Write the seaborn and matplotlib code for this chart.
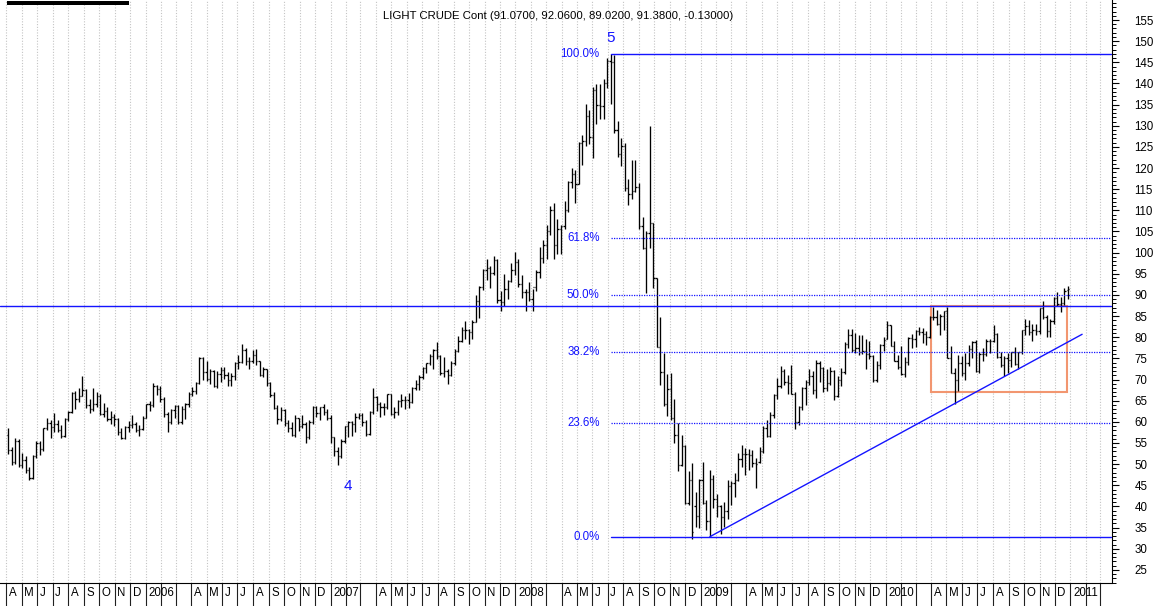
import numpy as np
import pandas as pd
import matplotlib
matplotlib.use("Agg")
import matplotlib.pyplot as plt
import seaborn as sns
from matplotlib.patches import Rectangle
from matplotlib.ticker import MultipleLocator, FixedLocator
import matplotlib.transforms as mtransforms

TITLE = "LIGHT CRUDE Cont (91.0700, 92.0600, 89.0200, 91.3800, -0.13000)"
FIRST_WEEK = "2005-04-04"

# ---- weekly OHLC ----
opens_2005 = [57.0,53.3,50.5,55.4,49.7,51.0,48.7,46.8,51.9,55.0,53.5,58.5,59.8,58.8,59.6,58.1,56.7,60.6,62.3,66.9,65.4,66.1,67.6,64.1,63.0,64.2,66.2,61.8,62.6,60.7,61.1,60.6,57.5,56.1,58.7,59.3,59.4,58.1,58.4]
highs_2005 = [58.5,54.0,56.1,56.0,52.6,52.0,49.4,52.2,55.4,55.5,58.6,60.9,60.5,62.1,60.5,59.3,60.9,62.5,67.1,67.3,68.0,70.8,67.8,65.5,68.0,67.0,66.5,64.5,63.5,62.5,61.8,60.8,58.5,58.9,60.2,61.6,60.0,59.2,61.3]
lows_2005 = [52.5,49.8,50.0,49.4,49.0,48.0,46.2,46.5,51.5,52.2,53.2,58.0,56.1,57.7,57.5,56.2,56.5,60.2,62.1,63.0,64.8,66.0,63.3,62.0,62.5,63.5,61.5,61.2,60.2,59.5,59.0,57.0,55.9,56.0,57.5,58.5,57.5,56.7,58.0]
closes_2005 = [53.3,50.5,55.4,49.7,51.0,48.7,46.8,51.9,55.0,53.5,58.5,59.8,58.8,59.6,58.1,56.7,60.6,62.3,66.9,65.4,66.1,67.6,64.1,63.0,64.2,66.2,61.8,62.6,60.7,61.1,60.6,57.5,56.1,58.7,59.3,59.4,58.1,58.4,61.0]

opens_2006 = [61.0,64.2,63.9,68.4,67.8,65.4,61.8,59.9,62.9,63.7,60.0,63.0,64.3,66.6,67.4,69.3,75.2,71.9,70.2,72.0,68.5,71.4,72.3,71.1,69.9,70.9,73.9,74.1,77.0,74.4,74.5,75.9,74.4,71.1,72.5,69.2,66.3,63.3,60.6,62.9,59.8,58.6,56.8,60.8,59.1,59.6,56.3,60.0,63.4,62.0,63.4,62.4]
highs_2006 = [64.3,65.0,69.2,68.8,68.5,65.8,62.3,63.0,63.9,64.0,63.8,64.5,67.0,68.3,69.5,75.4,75.3,74.5,72.5,72.3,72.0,73.0,73.0,71.8,71.5,74.2,75.8,78.4,77.5,75.4,77.0,77.3,74.5,73.0,72.6,69.4,67.0,64.0,63.5,63.0,60.5,60.0,61.5,61.0,61.5,60.0,60.4,63.8,63.8,63.5,64.2,63.0]
lows_2006 = [60.8,62.5,63.5,66.3,64.8,61.2,57.6,59.5,60.8,59.6,59.5,60.6,63.5,66.0,66.6,69.0,70.0,69.6,69.0,68.2,68.0,69.5,70.2,68.5,68.5,70.0,72.5,73.9,73.5,72.5,74.0,73.4,70.9,70.6,68.5,65.8,63.0,59.5,60.2,58.9,57.5,56.6,56.5,57.9,58.5,55.0,56.0,59.5,61.2,60.5,61.5,60.5]
closes_2006 = [64.2,63.9,68.4,67.8,65.4,61.8,59.9,62.9,63.7,60.0,63.0,64.3,66.6,67.4,69.3,75.2,71.9,70.2,72.0,68.5,71.4,72.3,71.1,69.9,70.9,73.9,74.1,77.0,74.4,74.5,75.9,74.4,71.1,72.5,69.2,66.3,63.3,60.6,62.9,59.8,58.6,56.8,60.8,59.1,59.6,56.3,60.0,63.4,62.0,63.4,62.4,61.0]

opens_2007 = [61.0,56.3,53.0,52.0,55.4,59.0,59.9,59.4,61.1,61.6,60.0,57.1,62.3,65.9,64.3,63.6,63.4,66.5,61.9,62.4,64.9,65.2,65.1,64.8,68.0,68.9,70.7,72.8,73.9,75.6,77.0,75.5,71.5,72.0,71.1,74.0,76.7,79.1,81.6,81.7,81.2,83.7,88.6,91.9,95.9,96.3,95.1,98.2,88.7,88.3,91.3,93.3]
highs_2007 = [61.5,56.5,54.0,55.9,59.0,60.2,60.3,62.0,62.2,62.0,60.5,62.5,68.1,66.0,64.6,64.5,66.7,66.6,63.5,65.2,66.5,66.0,66.8,68.2,69.9,71.0,73.0,74.0,76.0,77.2,78.8,75.8,75.4,72.5,74.5,77.2,80.2,82.4,83.9,81.9,84.0,90.1,92.2,96.2,98.6,96.8,99.3,98.5,91.0,94.9,93.6,97.6]
lows_2007 = [55.1,51.9,49.9,51.5,55.0,56.5,56.7,57.5,60.6,59.0,56.7,56.9,61.9,62.5,61.1,61.5,63.0,61.5,61.0,61.5,63.5,63.0,63.2,64.5,67.5,67.5,70.2,71.6,73.5,72.5,74.8,71.1,70.5,69.0,70.8,73.5,76.5,78.9,79.5,78.4,79.6,83.5,84.5,91.2,93.5,91.7,94.8,88.2,86.2,87.5,89.1,93.0]
closes_2007 = [56.3,53.0,52.0,55.4,59.0,59.9,59.4,61.1,61.6,60.0,57.1,62.3,65.9,64.3,63.6,63.4,66.5,61.9,62.4,64.9,65.2,65.1,64.8,68.0,68.9,70.7,72.8,73.9,75.6,77.0,75.5,71.5,72.0,71.1,74.0,76.7,79.1,81.6,81.7,81.2,83.7,88.6,91.9,95.9,96.3,95.1,98.2,88.7,88.3,91.3,93.3,96.0]

opens_2008 = [96.0,97.9,92.7,90.6,90.7,89.0,91.8,95.5,98.8,101.8,105.2,110.2,101.8,105.6,106.2,110.1,116.7,118.5,116.3,126.0,126.3,132.2,127.4,138.5,134.9,134.6,140.2,145.3,145.1,128.9,123.3,125.1,115.2,113.8,114.6,115.5,106.2,101.2,104.6,106.9,93.9,77.7,71.9,64.2,67.8,61.0,57.0,49.9,54.4,40.8,46.3,40.0]
highs_2008 = [100.1,98.5,94.6,91.5,93.0,91.5,96.0,101.3,103.0,106.5,111.0,111.8,107.9,106.5,112.2,117.0,119.9,119.5,126.2,127.8,135.1,133.7,139.1,139.9,139.9,141.0,145.9,147.0,146.7,131.2,127.2,126.0,117.5,122.0,121.8,116.4,108.5,105.0,130.0,107.0,94.0,84.9,76.2,71.2,71.5,65.5,59.7,56.9,54.5,48.3,50.2,43.5]
lows_2008 = [94.8,91.8,89.3,86.1,88.5,86.1,91.0,94.0,97.5,98.6,104.2,98.5,99.6,99.7,105.5,109.5,115.3,111.8,116.2,120.7,125.2,125.7,122.3,130.5,131.5,131.6,139.0,135.1,128.2,122.5,120.4,114.6,111.3,112.7,114.3,105.5,100.8,90.5,101.0,91.6,77.6,68.6,63.7,61.3,60.4,55.0,48.3,49.5,40.5,40.3,32.4,35.1]
closes_2008 = [97.9,92.7,90.6,90.7,89.0,91.8,95.5,98.8,101.8,105.2,110.2,101.8,105.6,106.2,110.1,116.7,118.5,116.3,126.0,126.3,132.2,127.4,138.5,134.9,134.6,140.2,145.3,145.1,128.9,123.3,125.1,115.2,113.8,114.6,115.5,106.2,101.2,104.6,106.9,93.9,77.7,71.9,64.2,67.8,61.0,57.0,49.9,54.4,40.8,46.3,33.9,37.7]

opens_2009 = [37.7,46.3,40.8,36.5,46.5,41.7,40.2,37.5,38.9,44.8,45.5,46.3,51.1,52.4,52.5,52.2,50.3,50.5,53.2,58.6,56.6,61.7,66.3,68.4,72.0,69.5,69.2,66.7,59.9,63.6,68.1,69.5,70.9,67.5,73.9,72.7,68.0,69.3,72.0,66.0,70.0,71.8,78.5,80.5,77.0,77.4,76.4,76.7,76.1,75.5,69.9,73.4]
highs_2009 = [46.5,50.5,41.5,48.6,47.5,43.0,40.3,41.0,46.3,46.0,47.8,52.6,54.5,53.7,53.5,53.3,51.4,54.1,58.9,60.4,62.4,66.5,70.3,73.2,72.6,71.0,73.4,67.0,63.7,68.3,69.9,72.6,72.0,74.7,74.4,73.0,72.6,73.0,72.3,70.8,72.8,78.9,82.0,82.0,81.1,80.5,80.5,79.5,79.0,75.8,74.5,78.3]
lows_2009 = [35.0,40.6,34.4,32.8,39.6,37.5,33.6,35.2,37.0,40.3,42.3,45.9,49.4,47.4,48.5,49.3,44.3,50.2,52.6,56.5,56.5,60.8,65.5,68.0,68.8,66.5,66.5,58.3,59.2,62.8,64.0,68.7,66.5,65.6,69.5,67.1,67.3,68.6,65.1,65.8,68.5,71.2,77.5,76.5,76.3,75.8,76.0,72.4,74.8,69.5,69.4,72.5]
closes_2009 = [46.3,40.8,36.5,46.5,41.7,40.2,37.5,38.9,44.8,45.5,46.3,51.1,52.4,52.5,52.2,50.3,50.0,53.2,58.6,56.6,61.7,66.3,68.4,72.0,69.5,69.2,66.7,59.9,63.6,68.1,69.5,70.9,67.5,73.9,72.7,68.0,69.3,72.0,66.0,70.0,71.8,78.5,80.5,77.0,77.4,76.4,76.7,76.1,75.5,69.9,73.4,78.1]

opens_2010 = [78.1,79.7,82.8,78.0,74.5,72.9,71.2,74.1,79.8,79.7,81.5,81.2,80.7,80.0,84.9,84.9,83.2,85.1,86.2,75.1,71.6,70.0,74.0,71.5,73.8,77.2,78.9,72.1,76.1,76.0,79.0,79.0,80.7,75.4,73.5,75.2,74.6,76.5,73.7,76.5,81.6,82.7,81.2,81.7,81.4,86.85,84.9,81.5,83.8,89.2,87.8,88.0,91.07]
highs_2010 = [80.0,83.9,82.9,79.1,75.9,78.0,75.3,80.0,80.7,81.8,82.5,82.3,81.4,85.0,87.1,86.5,85.4,86.2,87.2,77.9,72.8,75.7,75.5,76.2,78.1,79.2,79.3,76.5,77.4,79.5,79.6,83.0,81.0,76.5,75.5,76.2,76.5,77.6,76.5,81.6,84.4,84.0,83.1,83.2,87.0,88.6,85.3,84.4,89.5,90.8,89.5,91.6,92.06]
lows_2010 = [76.7,79.6,77.9,74.5,72.4,71.0,70.6,73.4,77.5,77.6,80.5,78.6,78.1,79.9,84.0,83.0,80.6,81.6,75.0,71.5,64.2,67.2,70.8,70.0,73.3,75.2,71.7,71.5,74.5,75.5,76.3,78.8,75.0,72.9,70.8,71.6,73.0,73.4,72.6,76.0,80.5,80.5,79.0,80.6,80.8,84.3,80.0,80.1,83.2,87.5,86.0,87.6,89.02]
closes_2010 = [79.4,82.8,78.0,74.5,72.9,71.2,74.1,79.8,79.7,81.5,81.2,80.7,80.0,84.9,84.9,83.2,85.1,86.2,75.1,71.6,70.0,74.0,71.5,73.8,77.2,78.9,72.1,76.1,76.0,79.0,79.0,80.7,75.4,73.5,75.2,74.6,76.5,73.7,76.5,81.6,82.7,81.2,81.7,81.4,86.85,84.9,81.5,83.8,89.2,87.8,88.0,91.0,91.38]

# ---- annotations ----
FIB_START = "2008-07-07"
FIB_HIGH = 147.0
FIB_LOW = 32.85
FIB_LEVELS = [100.0, 61.8, 50.0, 38.2, 23.6, 0.0]
RESIST = 87.4
RECT_DATES = ["2010-03-31", "2010-12-26"]
RECT_PRICES = [67.1, 87.4]
TREND_DATES = ["2009-01-19", "2011-01-24"]
TREND_PRICES = [32.85, 80.7]
WAVE_LABELS = ["4", "5"]
WAVE_DATES = ["2007-02-04", "2008-07-07"]
WAVE_PRICES = [44.85, 150.7]
Y_TICKS = list(range(25, 160, 5))

opens = opens_2005 + opens_2006 + opens_2007 + opens_2008 + opens_2009 + opens_2010
highs = highs_2005 + highs_2006 + highs_2007 + highs_2008 + highs_2009 + highs_2010
lows = lows_2005 + lows_2006 + lows_2007 + lows_2008 + lows_2009 + lows_2010
closes = closes_2005 + closes_2006 + closes_2007 + closes_2008 + closes_2009 + closes_2010

dates = pd.date_range(FIRST_WEEK, periods=len(closes), freq="7D")
df = pd.DataFrame(dict(date=dates, open=opens, high=highs, low=lows, close=closes))
BASE = pd.Timestamp(FIRST_WEEK)


def xd(d):
    return (pd.Timestamp(d) - BASE).days


sns.set_style("white")
plt.rcParams["font.family"] = ["Liberation Sans", "DejaVu Sans"]

W, H = 1159, 606
fig = plt.figure(figsize=(W / 100, H / 100), dpi=100)
ax = fig.add_axes([0, 1 - 583 / H, 1111.5 / W, 583 / H])

XL = (-15.8, 2179.0)
ax.set_xlim(*XL)
ax.set_ylim(21.9, 159.73)

# month grid + ticks
months = pd.date_range("2005-04-01", "2011-03-01", freq="MS")
mpos = [xd(m) for m in months]
ax.xaxis.set_major_locator(FixedLocator(mpos))
ax.grid(axis="x", which="major", color="#c4c4c4", linestyle=(0, (1, 1.5)), lw=0.8)
ax.grid(axis="y", visible=False)
ax.tick_params(axis="x", which="major", bottom=True, direction="out", length=16.6,
               width=0.8, color="#202020", labelbottom=False)
ax.set_axisbelow(True)

mlabels = []
for m in months:
    if m.month == 1:
        mlabels.append(str(m.year))
    elif m.month in (2, 3):
        mlabels.append("")
    else:
        mlabels.append(m.strftime("%b")[0])
lab_tr = mtransforms.blended_transform_factory(ax.transData, ax.transAxes) + \
    mtransforms.ScaledTranslation(2.5 / 100, -9.5 / 100, fig.dpi_scale_trans)
for p, t in zip(mpos, mlabels):
    if t:
        ax.text(p, 0, t, transform=lab_tr, ha="left", va="center", fontsize=8.3,
                color="black", clip_on=False)

# y axis on the right
ax.yaxis.tick_right()
ax.yaxis.set_major_locator(FixedLocator(Y_TICKS))
ax.yaxis.set_minor_locator(MultipleLocator(1))
ax.tick_params(axis="y", which="major", right=True, left=False, direction="out",
               length=5, width=0.8, pad=11.5, labelsize=8.3, colors="black")
ax.tick_params(axis="y", which="minor", right=True, left=False, direction="out",
               length=2.8, width=0.7, color="black")

for s in ["left", "top"]:
    ax.spines[s].set_visible(False)
for s in ["right", "bottom"]:
    ax.spines[s].set_color("black")
    ax.spines[s].set_linewidth(0.8)

# OHLC bars
x = (df["date"] - BASE).dt.days.values
ax.vlines(x, df["low"], df["high"], color="black", lw=0.95, zorder=3)
ax.hlines(df["open"], x - 2.6, x, color="black", lw=0.95, zorder=3)
ax.hlines(df["close"], x, x + 2.6, color="black", lw=0.95, zorder=3)

BLUE = "#1414ff"
# resistance line
sns.lineplot(x=list(XL), y=[RESIST, RESIST], color=BLUE, lw=1.0, ax=ax, zorder=4)

# fibonacci retracements
fx0 = xd(FIB_START)
for lvl in FIB_LEVELS:
    price = FIB_LOW + (FIB_HIGH - FIB_LOW) * lvl / 100.0
    solid = lvl in (0.0, 100.0)
    ax.plot([fx0, XL[1]], [price, price], color=BLUE,
            lw=1.0 if solid else 0.9,
            linestyle="-" if solid else (0, (1, 1)), zorder=4)
    ax.annotate(f"{lvl:.1f}%", xy=(fx0, price), xytext=(-11, 0),
                textcoords="offset pixels", ha="right", va="center",
                fontsize=8.3, color=BLUE)

# trendline
sns.lineplot(x=[xd(d) for d in TREND_DATES], y=TREND_PRICES, color=BLUE, lw=1.0,
             ax=ax, zorder=4)

# box
rx0, rx1 = xd(RECT_DATES[0]), xd(RECT_DATES[1])
ax.add_patch(Rectangle((rx0, RECT_PRICES[0]), rx1 - rx0, RECT_PRICES[1] - RECT_PRICES[0],
                       fill=False, edgecolor="#f29670", lw=1.5, zorder=2))

# wave labels
for t, d, p in zip(WAVE_LABELS, WAVE_DATES, WAVE_PRICES):
    ax.text(xd(d), p, t, ha="center", va="center", fontsize=11, color=BLUE)

if ax.get_legend() is not None:
    ax.get_legend().remove()
ax.set_xlabel("")
ax.set_ylabel("")

# title
fig.text(383 / W, 1 - 16 / H, TITLE, ha="left", va="center", fontsize=8.2, color="black")

# cropped header rule at top-left
fig.add_artist(Rectangle((7 / W, 1 - 4.6 / H), 122 / W, 3.2 / H, transform=fig.transFigure,
                         color="black", lw=0))

fig.savefig("out.png", dpi=100)
